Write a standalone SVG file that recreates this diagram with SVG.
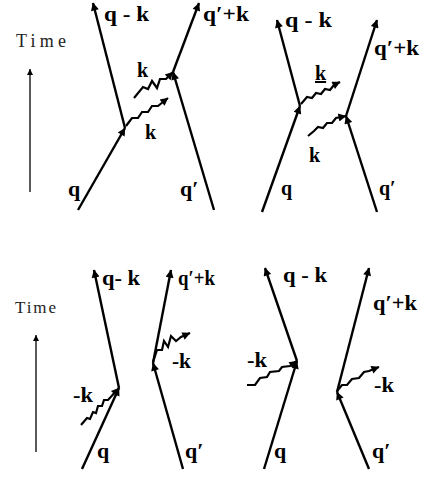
<svg xmlns="http://www.w3.org/2000/svg" width="424" height="478" viewBox="0 0 424 478">
<defs>
<marker id="ah" viewBox="0 0 10 10" refX="9.5" refY="5" markerUnits="userSpaceOnUse" markerWidth="10" markerHeight="8" orient="auto">
<path d="M0,0 L10,5 L0,10 z" fill="#000"/>
</marker>
<marker id="ta" viewBox="0 0 10 10" refX="10" refY="5" markerUnits="userSpaceOnUse" markerWidth="11" markerHeight="6" orient="auto">
<path d="M0,0 L10,5 L0,10 z" fill="#000"/>
</marker>
</defs>
<style>
.ln{fill:none;stroke:#000;stroke-width:2.4;marker-end:url(#ah)}
.wv{fill:none;stroke:#000;stroke-width:2.2;stroke-linejoin:miter;marker-end:url(#ah)}
.ax{fill:none;stroke:#000;stroke-width:1.3;marker-end:url(#ta)}
.lb{font-family:'Liberation Serif','DejaVu Serif','Times New Roman',serif;font-weight:bold;font-size:20px;fill:#000}
.lq{font-family:'Liberation Serif','DejaVu Serif','Times New Roman',serif;font-weight:bold;font-size:22px;fill:#000}
.tm{font-family:'Liberation Serif','DejaVu Serif','Times New Roman',serif;font-size:18px;fill:#222}
</style>

<g id="time-top">
<text class="tm" x="16" y="47" textLength="50" lengthAdjust="spacing">Time</text>
<path class="ax" d="M30,192 L30,69"/>
</g>
<g id="time-bottom">
<text class="tm" x="15" y="313" textLength="41" lengthAdjust="spacing" style="font-size:17px">Time</text>
<path class="ax" d="M36,452 L36,335"/>
</g>

<g id="connectors">
<!-- top-left -->
<path class="ln" d="M78,210 L125,128"/>
<path class="ln" d="M125,128 L93,3"/>
<path class="wv" d="M126,126 L132,118 L138,118 L142,112 L148,112 L152,106 L158,106 L168,98"/>
<path class="wv" d="M134,98 L143,87 L148,89 L152,81 L157,88 L160,79 L166,79 L173,72"/>
<path class="ln" d="M214,210 L173,72"/>
<path class="ln" d="M173,72 L199,3"/>
<!-- top-right -->
<path class="ln" d="M262,212 L300,106"/>
<path class="ln" d="M300,106 L277,20"/>
<path class="wv" d="M301,104 L307,97 L312,98 L316,93 L321,94 L325,89 L330,90 L334,85 L340,82"/>
<path class="wv" d="M308,136 L314,131 L318,127 L323,128 L327,123 L332,123 L336,118 L346,116"/>
<path class="ln" d="M377,212 L346,116"/>
<path class="ln" d="M346,116 L377,20"/>
<!-- bottom-left -->
<path class="ln" d="M82,469 L119,388"/>
<path class="ln" d="M119,388 L94,270"/>
<path class="wv" d="M81,425 L87,418 L90,419 L93,412 L96,413 L98,406 L102,406 L104,400 L108,400 L119,388"/>
<path class="ln" d="M183,469 L153,363"/>
<path class="ln" d="M153,363 L171,270"/>
<path class="wv" d="M153,362 L157,350 L162,350 L164,341 L168,347 L171,336 L176,341 L181,337 L190,333"/>
<!-- bottom-right -->
<path class="ln" d="M264,469 L297,361"/>
<path class="ln" d="M297,361 L265,268"/>
<path class="wv" d="M247,385 L255,385 L260,378 L267,377 L270,372 L279,371 L282,367 L290,366 L297,361"/>
<path class="ln" d="M369,469 L337,392"/>
<path class="ln" d="M337,392 L369,268"/>
<path class="wv" d="M337,391 L342,385 L347,385 L352,379 L359,378 L364,372 L369,371 L379,367"/>
</g>

<g id="labels-top-left">
<text class="lb" x="104" y="21" textLength="45" lengthAdjust="spacingAndGlyphs">q - k</text>
<text class="lb" x="203" y="21" textLength="46" lengthAdjust="spacingAndGlyphs">q′+k</text>
<text class="lb" x="137" y="77">k</text>
<text class="lb" x="145" y="139">k</text>
<text class="lq" x="68" y="196">q</text>
<text class="lq" x="180" y="196">q′</text>
</g>
<g id="labels-top-right">
<text class="lb" x="285" y="27" textLength="47" lengthAdjust="spacingAndGlyphs">q - k</text>
<text class="lb" x="374" y="55" textLength="45" lengthAdjust="spacingAndGlyphs">q′+k</text>
<text class="lb" x="315" y="80" text-decoration="underline">k</text>
<text class="lb" x="309" y="162">k</text>
<text class="lb" x="281" y="195">q</text>
<text class="lb" x="379" y="195">q′</text>
</g>
<g id="labels-bottom-left">
<text class="lb" x="102" y="285" textLength="38" lengthAdjust="spacingAndGlyphs">q- k</text>
<text class="lb" x="178" y="285" textLength="37" lengthAdjust="spacingAndGlyphs">q′+k</text>
<text class="lb" x="73" y="402" textLength="20" lengthAdjust="spacingAndGlyphs">-k</text>
<text class="lb" x="172" y="368" textLength="19" lengthAdjust="spacingAndGlyphs">-k</text>
<text class="lq" x="97" y="458">q</text>
<text class="lq" x="185" y="458">q′</text>
</g>
<g id="labels-bottom-right">
<text class="lb" x="283" y="282" textLength="44" lengthAdjust="spacingAndGlyphs">q - k</text>
<text class="lb" x="373" y="310" textLength="44" lengthAdjust="spacingAndGlyphs">q′+k</text>
<text class="lb" x="247" y="367" textLength="20" lengthAdjust="spacingAndGlyphs">-k</text>
<text class="lb" x="374" y="392" textLength="20" lengthAdjust="spacingAndGlyphs">-k</text>
<text class="lq" x="274" y="458">q</text>
<text class="lq" x="372" y="458">q′</text>
</g>
</svg>
